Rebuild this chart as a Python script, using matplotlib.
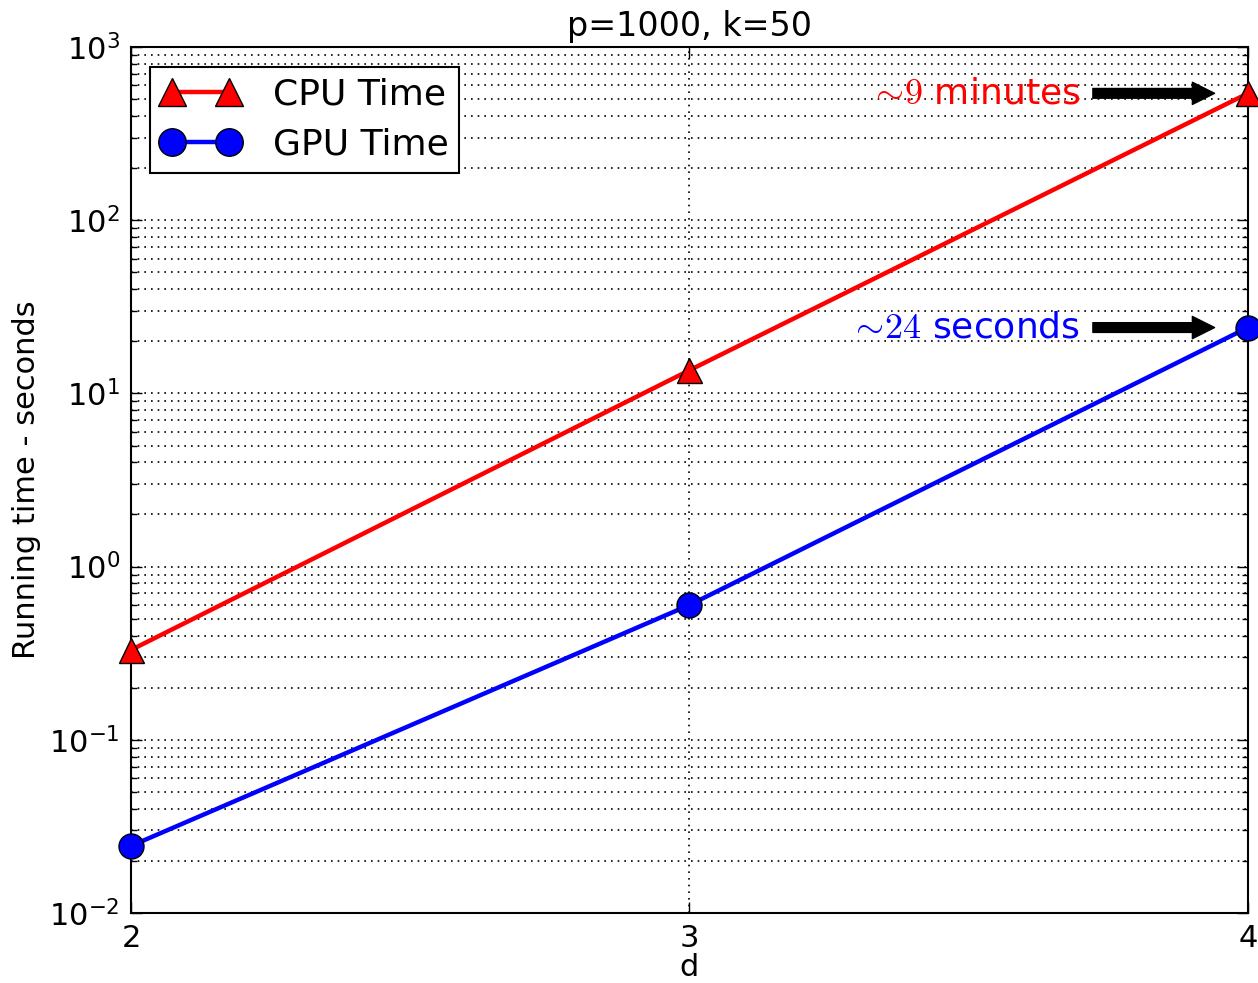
"""Running time vs d (p=1000, k=50): CPU vs GPU on a log axis."""
import matplotlib
matplotlib.use("Agg")
import matplotlib.pyplot as plt
from matplotlib.ticker import LogLocator, NullFormatter

plt.rcParams['axes.unicode_minus'] = False

d_values = [2, 3, 4]
cpu_time = [0.33, 13.6, 540.0]
gpu_time = [0.0244, 0.60, 24.0]

cpu_note = r"$\sim\!9$ minutes"
gpu_note = r"$\sim\!24$ seconds"

fig = plt.figure(figsize=(12.58, 9.83), dpi=100)
ax = fig.add_axes([0.1041, 0.0712, 0.8879, 0.881])

ax.plot(d_values, cpu_time, '-^', color='red', lw=3.2, ms=18,
        mfc='red', mec='black', mew=1, label='CPU Time', clip_on=False, zorder=5)
ax.plot(d_values, gpu_time, '-o', color='blue', lw=3.2, ms=18,
        mfc='blue', mec='black', mew=1, label='GPU Time', clip_on=False, zorder=5)

ax.set_yscale('log')
ax.set_xlim(2, 4)
ax.set_ylim(1e-2, 1e3)
ax.set_xticks(d_values)
ax.yaxis.set_major_locator(LogLocator(base=10, numticks=10))
ax.yaxis.set_minor_locator(LogLocator(base=10, subs=range(2, 10), numticks=10))
ax.yaxis.set_minor_formatter(NullFormatter())

grid_kw = dict(linestyle=(0, (1, 3)), color='black', lw=1.2)
ax.grid(True, which='major', axis='both', **grid_kw)
ax.grid(True, which='minor', axis='y', **grid_kw)

ax.tick_params(which='both', direction='in', top=True, right=True, labelsize=22)
ax.tick_params(which='major', length=8, width=1, pad=8)
ax.tick_params(which='minor', length=4, width=1)
for s in ax.spines.values():
    s.set_linewidth(1.5)

ax.set_xlabel('d', fontsize=22, labelpad=0)
ax.set_ylabel('Running time - seconds', fontsize=22, labelpad=6)
ax.set_title('p=1000, k=50', fontsize=24, pad=8)

leg = ax.legend(loc='upper left', numpoints=2, fontsize=26, fancybox=False,
                edgecolor='black', framealpha=1, borderpad=0.3,
                handlelength=2.2, handletextpad=0.9, labelspacing=0.45,
                markerscale=1.1, borderaxespad=0, bbox_to_anchor=(0.017, 0.977))
leg.get_frame().set_linewidth(1.5)

arrow = dict(arrowstyle='simple,head_length=16,head_width=16,tail_width=7',
             mutation_scale=1, fc='black', ec='black', relpos=(1, 0.5),
             shrinkA=7, shrinkB=24)
ax.annotate(cpu_note, xy=(d_values[-1], cpu_time[-1]), xytext=(3.7, cpu_time[-1]),
            ha='right', va='center', color='red', fontsize=26,
            math_fontfamily='cm', arrowprops=arrow)
ax.annotate(gpu_note, xy=(d_values[-1], gpu_time[-1]), xytext=(3.7, gpu_time[-1]),
            ha='right', va='center', color='blue', fontsize=26,
            math_fontfamily='cm', arrowprops=arrow)

fig.savefig('out.png', dpi=100, facecolor='white')
